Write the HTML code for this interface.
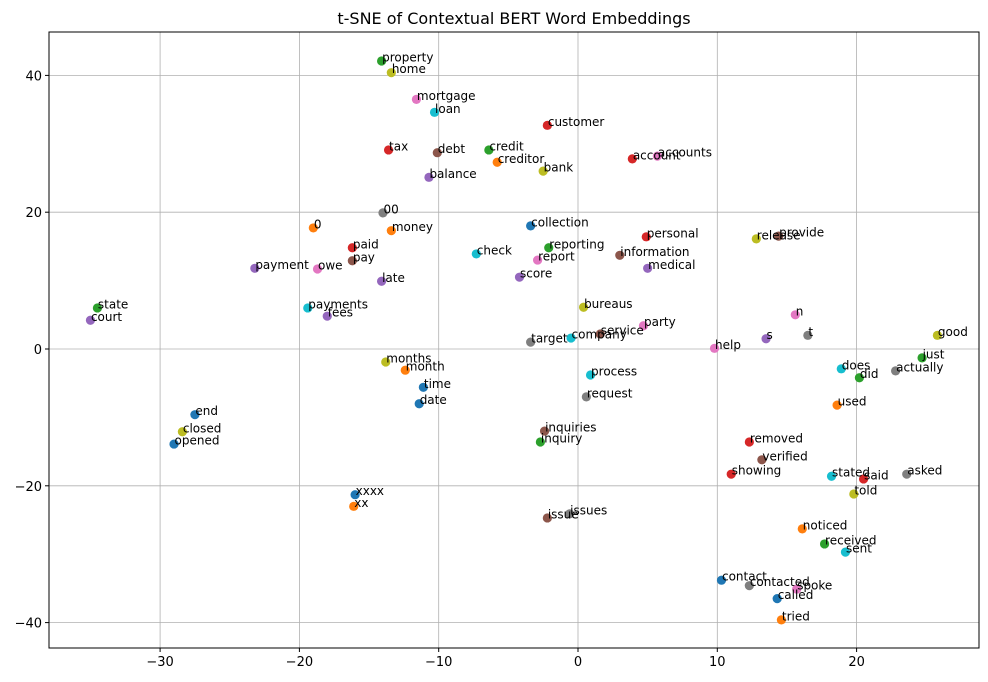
<!DOCTYPE html>
<html><head><meta charset="utf-8"><style>
body{margin:0;background:#fff}
svg{display:block;font-family:"DejaVu Sans","Liberation Sans",sans-serif}
</style></head><body>
<svg id="chart" width="988" height="682" viewBox="0 0 988 682">
<text x="514" y="24" text-anchor="middle" font-size="16">t-SNE of Contextual BERT Word Embeddings</text>
<g id="grid"></g><g id="pts"></g><g id="axes"></g>
</svg>
<script>
const words=["property","home","mortgage","loan","customer","tax","debt","credit","creditor","account","accounts","bank","balance","00","0","money","collection","personal","release","provide","paid","pay","check","reporting","report","information","payment","owe","medical","score","late","state","court","payments","fees","bureaus","n","party","service","company","target","s","t","good","help","just","months","month","does","actually","did","process","time","request","date","used","end","closed","inquiries","opened","inquiry","removed","verified","showing","stated","said","asked","told","xxxx","xx","issues","issue","noticed","received","sent","contact","contacted","spoke","called","tried"];
const xs=[-14.1,-13.4,-11.6,-10.3,-2.2,-13.6,-10.1,-6.4,-5.8,3.9,5.7,-2.5,-10.7,-14.0,-19.0,-13.4,-3.4,4.9,12.8,14.4,-16.2,-16.2,-7.3,-2.1,-2.9,3.0,-23.2,-18.7,5.0,-4.2,-14.1,-34.5,-35.0,-19.4,-18.0,0.4,15.6,4.7,1.6,-0.5,-3.4,13.5,16.5,25.8,9.8,24.7,-13.8,-12.4,18.9,22.8,20.2,0.9,-11.1,0.6,-11.4,18.6,-27.5,-28.4,-2.4,-29.0,-2.7,12.3,13.2,11.0,18.2,20.5,23.6,19.8,-16.0,-16.1,-0.6,-2.2,16.1,17.7,19.2,10.3,12.3,15.7,14.3,14.6];
const ys=[42.1,40.4,36.5,34.6,32.7,29.1,28.7,29.1,27.3,27.8,28.2,26.0,25.1,19.9,17.7,17.3,18.0,16.4,16.1,16.5,14.8,12.9,13.9,14.8,13.0,13.7,11.8,11.7,11.8,10.5,9.9,6.0,4.2,6.0,4.8,6.1,5.0,3.4,2.2,1.6,1.0,1.5,2.0,2.0,0.1,-1.3,-1.9,-3.1,-2.9,-3.2,-4.2,-3.8,-5.6,-7.0,-8.0,-8.2,-9.6,-12.1,-12.0,-13.9,-13.6,-13.6,-16.2,-18.3,-18.6,-19.0,-18.3,-21.2,-21.3,-23.0,-24.1,-24.7,-26.3,-28.5,-29.7,-33.8,-34.6,-35.1,-36.5,-39.6];
const colorIdx=[2,8,6,9,3,3,5,2,1,3,6,8,4,7,1,1,0,3,8,5,3,5,9,2,6,5,4,6,4,4,4,2,4,9,4,8,6,6,5,9,7,4,7,8,6,2,8,1,9,7,2,9,0,7,0,1,0,8,5,0,2,3,5,3,9,3,7,8,0,1,7,5,1,2,9,0,7,6,0,1];
const xTicks=[-30,-20,-10,0,10,20];
const yTicks=[-40,-20,0,20,40];
const pal=["#1f77b4","#ff7f0e","#2ca02c","#d62728","#9467bd","#8c564b","#e377c2","#7f7f7f","#bcbd22","#17becf"];
const L=49,R=979,T=32,B=648;
const sx=v=>578+v*13.93, sy=v=>349-v*6.84;
const NS="http://www.w3.org/2000/svg";
function mk(tag,at,parent){const e=document.createElementNS(NS,tag);for(const k in at)e.setAttribute(k,at[k]);document.getElementById(parent).appendChild(e);return e;}
xTicks.forEach(t=>{const x=sx(t);
 const g=mk("line",{x1:x,x2:x,y1:T,y2:B,stroke:"#b0b0b0","stroke-width":0.8},"grid");
 
 
 mk("line",{x1:x,x2:x,y1:B,y2:B+4,stroke:"#000"},"axes");
 const tx=mk("text",{x:x,y:B+18,"text-anchor":"middle","font-size":13},"axes");
 tx.textContent=(t<0?"\u2212"+(-t):t);
 
 
});
yTicks.forEach(t=>{const y=sy(t);
 const g=mk("line",{x1:L,x2:R,y1:y,y2:y,stroke:"#b0b0b0","stroke-width":0.8},"grid");
 
 
 mk("line",{x1:L-4,x2:L,y1:y,y2:y,stroke:"#000"},"axes");
 const tx=mk("text",{x:L-7,y:y+5,"text-anchor":"end","font-size":13},"axes");
 tx.textContent=(t<0?"\u2212"+(-t):t);
 
 
});
const fr=mk("rect",{x:L,y:T,width:R-L,height:B-T,fill:"none",stroke:"#000","stroke-width":1},"axes");


words.forEach((w,i)=>{const x=sx(xs[i]),y=sy(ys[i]);
 const c=mk("circle",{cx:x,cy:y,r:4.6,fill:pal[colorIdx[i]]},"pts");
 
 
});
words.forEach((w,i)=>{const x=sx(xs[i]),y=sy(ys[i]);
 const t=mk("text",{x:x+0.5,y:y+0.5,"font-size":12},"pts");
 t.textContent=w;
 
 
});
</script>
</body></html>
